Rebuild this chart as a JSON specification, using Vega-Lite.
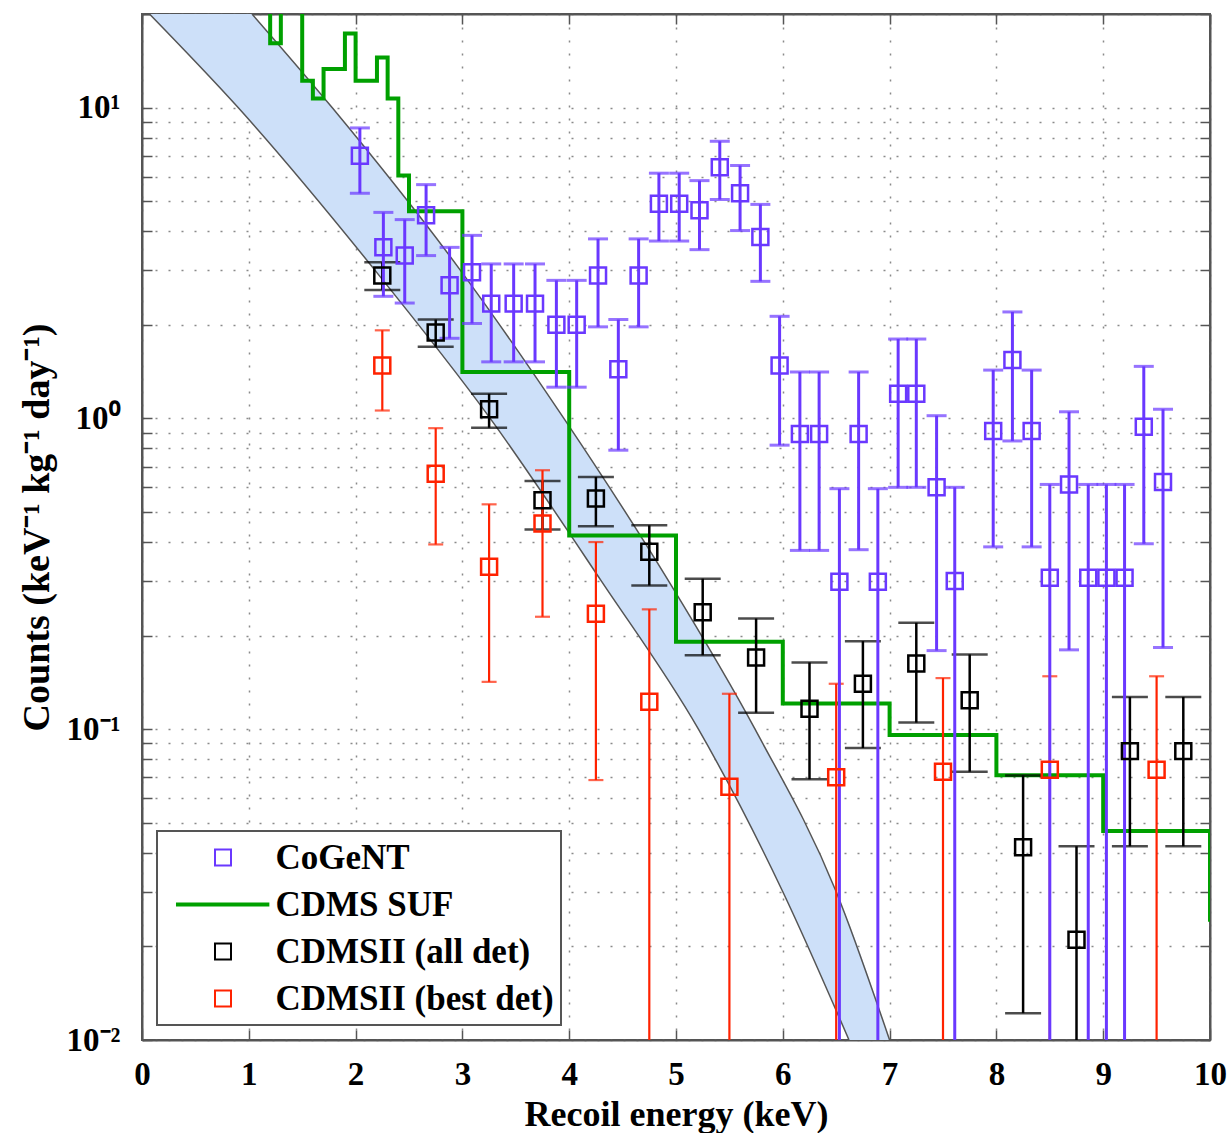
{
  "$schema": "https://vega.github.io/schema/vega-lite/v6.json",
  "width": 1068,
  "height": 1026,
  "autosize": {"type": "none"},
  "padding": {"left": 142, "top": 14, "right": 21, "bottom": 93},
  "background": "white",
  "config": {
    "view": {"stroke": "#555", "strokeWidth": 2},
    "font": "Liberation Serif",
    "legend": {"strokeWidth": 2}
  },
  "datasets": {
    "band": [
      {"level": 20, "left": 0.07, "right": 1.03},
      {"level": 10, "left": 0.90, "right": 1.78},
      {"level": 3, "left": 2.18, "right": 2.98},
      {"level": 1, "left": 3.26, "right": 3.95},
      {"level": 0.3, "left": 4.30, "right": 4.93},
      {"level": 0.1, "left": 5.21, "right": 5.74},
      {"level": 0.03, "left": 6.00, "right": 6.50},
      {"level": 0.01, "left": 6.62, "right": 7.00}
    ],
    "suf": [
      {"e": 1.0, "v": 40}, {"e": 1.2, "v": 16.1}, {"e": 1.3, "v": 40}, {"e": 1.5, "v": 12.2},
      {"e": 1.6, "v": 10.7}, {"e": 1.7, "v": 13.3}, {"e": 1.9, "v": 17.3}, {"e": 2.0, "v": 12.2},
      {"e": 2.2, "v": 14.5}, {"e": 2.3, "v": 10.7}, {"e": 2.4, "v": 6.04}, {"e": 2.5, "v": 4.64},
      {"e": 3.0, "v": 1.41}, {"e": 4.0, "v": 0.42}, {"e": 5.0, "v": 0.191}, {"e": 6.0, "v": 0.121},
      {"e": 7.0, "v": 0.0957}, {"e": 8.0, "v": 0.0711}, {"e": 9.0, "v": 0.047}, {"e": 10.0, "v": 0.024}
    ],
    "pts": [
      {"series": "CDMSII (all det)", "e": 2.25, "v": 2.88, "lo": 2.59, "hi": 3.18},
      {"series": "CDMSII (all det)", "e": 2.75, "v": 1.89, "lo": 1.70, "hi": 2.08},
      {"series": "CDMSII (all det)", "e": 3.25, "v": 1.07, "lo": 0.933, "hi": 1.20},
      {"series": "CDMSII (all det)", "e": 3.75, "v": 0.545, "lo": 0.439, "hi": 0.629},
      {"series": "CDMSII (all det)", "e": 4.25, "v": 0.552, "lo": 0.45, "hi": 0.648},
      {"series": "CDMSII (all det)", "e": 4.75, "v": 0.372, "lo": 0.29, "hi": 0.453},
      {"series": "CDMSII (all det)", "e": 5.25, "v": 0.238, "lo": 0.173, "hi": 0.305},
      {"series": "CDMSII (all det)", "e": 5.75, "v": 0.170, "lo": 0.113, "hi": 0.227},
      {"series": "CDMSII (all det)", "e": 6.25, "v": 0.1164, "lo": 0.069, "hi": 0.164},
      {"series": "CDMSII (all det)", "e": 6.75, "v": 0.14, "lo": 0.087, "hi": 0.192},
      {"series": "CDMSII (all det)", "e": 7.25, "v": 0.1626, "lo": 0.105, "hi": 0.22},
      {"series": "CDMSII (all det)", "e": 7.75, "v": 0.124, "lo": 0.073, "hi": 0.174},
      {"series": "CDMSII (all det)", "e": 8.25, "v": 0.0417, "lo": 0.0122, "hi": 0.071},
      {"series": "CDMSII (all det)", "e": 8.75, "v": 0.021, "lo": 0.001, "hi": 0.042},
      {"series": "CDMSII (all det)", "e": 9.25, "v": 0.085, "lo": 0.042, "hi": 0.127},
      {"series": "CDMSII (all det)", "e": 9.75, "v": 0.085, "lo": 0.042, "hi": 0.127},
      {"series": "CDMSII (best det)", "e": 2.25, "v": 1.48, "lo": 1.06, "hi": 1.92},
      {"series": "CDMSII (best det)", "e": 2.75, "v": 0.664, "lo": 0.393, "hi": 0.93},
      {"series": "CDMSII (best det)", "e": 3.25, "v": 0.333, "lo": 0.142, "hi": 0.529},
      {"series": "CDMSII (best det)", "e": 3.75, "v": 0.459, "lo": 0.23, "hi": 0.681},
      {"series": "CDMSII (best det)", "e": 4.25, "v": 0.235, "lo": 0.0686, "hi": 0.40},
      {"series": "CDMSII (best det)", "e": 4.75, "v": 0.1225, "lo": 0.001, "hi": 0.243},
      {"series": "CDMSII (best det)", "e": 5.5, "v": 0.0653, "lo": 0.001, "hi": 0.13},
      {"series": "CDMSII (best det)", "e": 6.5, "v": 0.070, "lo": 0.001, "hi": 0.14},
      {"series": "CDMSII (best det)", "e": 7.5, "v": 0.073, "lo": 0.001, "hi": 0.146},
      {"series": "CDMSII (best det)", "e": 8.5, "v": 0.074, "lo": 0.001, "hi": 0.148},
      {"series": "CDMSII (best det)", "e": 9.5, "v": 0.074, "lo": 0.001, "hi": 0.148},
      {"series": "CoGeNT", "e": 2.04, "v": 7.0, "lo": 5.3, "hi": 8.6},
      {"series": "CoGeNT", "e": 2.26, "v": 3.55, "lo": 2.47, "hi": 4.6},
      {"series": "CoGeNT", "e": 2.46, "v": 3.34, "lo": 2.35, "hi": 4.36},
      {"series": "CoGeNT", "e": 2.66, "v": 4.5, "lo": 3.34, "hi": 5.65},
      {"series": "CoGeNT", "e": 2.88, "v": 2.68, "lo": 1.81, "hi": 3.55},
      {"series": "CoGeNT", "e": 3.09, "v": 2.95, "lo": 2.02, "hi": 3.88},
      {"series": "CoGeNT", "e": 3.27, "v": 2.34, "lo": 1.52, "hi": 3.14},
      {"series": "CoGeNT", "e": 3.48, "v": 2.34, "lo": 1.52, "hi": 3.14},
      {"series": "CoGeNT", "e": 3.68, "v": 2.34, "lo": 1.52, "hi": 3.14},
      {"series": "CoGeNT", "e": 3.88, "v": 2.0, "lo": 1.26, "hi": 2.78},
      {"series": "CoGeNT", "e": 4.07, "v": 2.0, "lo": 1.26, "hi": 2.78},
      {"series": "CoGeNT", "e": 4.27, "v": 2.88, "lo": 1.97, "hi": 3.78},
      {"series": "CoGeNT", "e": 4.46, "v": 1.44, "lo": 0.79, "hi": 2.08},
      {"series": "CoGeNT", "e": 4.65, "v": 2.88, "lo": 1.97, "hi": 3.78},
      {"series": "CoGeNT", "e": 4.84, "v": 4.9, "lo": 3.72, "hi": 6.15},
      {"series": "CoGeNT", "e": 5.03, "v": 4.9, "lo": 3.72, "hi": 6.15},
      {"series": "CoGeNT", "e": 5.22, "v": 4.67, "lo": 3.49, "hi": 5.82},
      {"series": "CoGeNT", "e": 5.41, "v": 6.43, "lo": 5.06, "hi": 7.79},
      {"series": "CoGeNT", "e": 5.60, "v": 5.3, "lo": 4.02, "hi": 6.51},
      {"series": "CoGeNT", "e": 5.79, "v": 3.83, "lo": 2.76, "hi": 4.88},
      {"series": "CoGeNT", "e": 5.97, "v": 1.48, "lo": 0.82, "hi": 2.13},
      {"series": "CoGeNT", "e": 6.16, "v": 0.89, "lo": 0.376, "hi": 1.41},
      {"series": "CoGeNT", "e": 6.34, "v": 0.89, "lo": 0.376, "hi": 1.41},
      {"series": "CoGeNT", "e": 6.53, "v": 0.298, "lo": 0.001, "hi": 0.594},
      {"series": "CoGeNT", "e": 6.71, "v": 0.89, "lo": 0.378, "hi": 1.41},
      {"series": "CoGeNT", "e": 6.89, "v": 0.298, "lo": 0.001, "hi": 0.594},
      {"series": "CoGeNT", "e": 7.08, "v": 1.2, "lo": 0.60, "hi": 1.80},
      {"series": "CoGeNT", "e": 7.25, "v": 1.2, "lo": 0.60, "hi": 1.80},
      {"series": "CoGeNT", "e": 7.44, "v": 0.60, "lo": 0.179, "hi": 1.02},
      {"series": "CoGeNT", "e": 7.61, "v": 0.30, "lo": 0.001, "hi": 0.60},
      {"series": "CoGeNT", "e": 7.97, "v": 0.91, "lo": 0.386, "hi": 1.43},
      {"series": "CoGeNT", "e": 8.15, "v": 1.54, "lo": 0.846, "hi": 2.2},
      {"series": "CoGeNT", "e": 8.33, "v": 0.91, "lo": 0.386, "hi": 1.43},
      {"series": "CoGeNT", "e": 8.50, "v": 0.307, "lo": 0.001, "hi": 0.613},
      {"series": "CoGeNT", "e": 8.68, "v": 0.613, "lo": 0.18, "hi": 1.05},
      {"series": "CoGeNT", "e": 8.86, "v": 0.307, "lo": 0.001, "hi": 0.613},
      {"series": "CoGeNT", "e": 9.03, "v": 0.307, "lo": 0.001, "hi": 0.613},
      {"series": "CoGeNT", "e": 9.20, "v": 0.307, "lo": 0.001, "hi": 0.613},
      {"series": "CoGeNT", "e": 9.38, "v": 0.94, "lo": 0.395, "hi": 1.47},
      {"series": "CoGeNT", "e": 9.56, "v": 0.624, "lo": 0.183, "hi": 1.07}
    ]
  },
  "layer": [
    {
      "data": {"name": "band"},
      "mark": {"type": "area", "orient": "horizontal", "interpolate": "monotone", "color": "#cde0f9", "opacity": 1, "clip": true},
      "encoding": {
        "y": {
          "field": "level", "type": "quantitative",
          "scale": {"type": "log", "domain": [0.01, 20], "nice": false},
          "axis": {
            "orient": "left",
            "values": [0.01, 0.02, 0.03, 0.04, 0.05, 0.06, 0.07, 0.08, 0.09, 0.1, 0.2, 0.3, 0.4, 0.5, 0.6, 0.7, 0.8, 0.9, 1, 2, 3, 4, 5, 6, 7, 8, 9, 10, 20],
            "labelExpr": "datum.value == 10 ? '10¹' : datum.value == 1 ? '10⁰' : datum.value == 0.1 ? '10⁻¹' : datum.value == 0.01 ? '10⁻²' : ''",
            "title": "Counts (keV⁻¹ kg⁻¹ day⁻¹)",
            "grid": true, "gridDash": [2, 11], "gridColor": "#8a8a8a", "gridWidth": 1.5,
            "tickSize": -10, "tickColor": "#555", "tickWidth": 1.5,
            "domainColor": "#555", "domainWidth": 2,
            "labelFont": "Liberation Serif", "labelFontWeight": "bold", "labelFontSize": 33, "labelColor": "black",
            "labelPadding": 32, "labelOverlap": false, "labelFlush": false,
            "titleFont": "Liberation Serif", "titleFontWeight": "bold", "titleFontSize": 38, "titleColor": "black",
            "titlePadding": 10
          }
        },
        "x": {
          "field": "left", "type": "quantitative",
          "scale": {"domain": [0, 10], "nice": false},
          "axis": {
            "orient": "bottom",
            "values": [0, 1, 2, 3, 4, 5, 6, 7, 8, 9, 10],
            "format": "d",
            "title": "Recoil energy (keV)",
            "grid": true, "gridDash": [2, 11], "gridColor": "#8a8a8a", "gridWidth": 1.5,
            "tickSize": -10, "tickColor": "#555", "tickWidth": 1.5,
            "domainColor": "#555", "domainWidth": 2,
            "labelFont": "Liberation Serif", "labelFontWeight": "bold", "labelFontSize": 33, "labelColor": "black",
            "labelPadding": 28, "labelOverlap": false, "labelFlush": false,
            "titleFont": "Liberation Serif", "titleFontWeight": "bold", "titleFontSize": 36, "titleColor": "black",
            "titlePadding": 6
          }
        },
        "x2": {"field": "right"}
      }
    },
    {
      "data": {"name": "band"},
      "mark": {"type": "line", "color": "#555", "strokeWidth": 1.5, "interpolate": "monotone", "clip": true},
      "encoding": {
        "x": {"field": "left", "type": "quantitative",
          "axis": {"orient": "top", "values": [0, 1, 2, 3, 4, 5, 6, 7, 8, 9, 10], "labels": false, "title": null, "grid": false, "tickSize": -10, "tickColor": "#555", "tickWidth": 1.5, "domainColor": "#555", "domainWidth": 2}},
        "y": {"field": "level", "type": "quantitative",
          "axis": {"orient": "right", "values": [0.01, 0.02, 0.03, 0.04, 0.05, 0.06, 0.07, 0.08, 0.09, 0.1, 0.2, 0.3, 0.4, 0.5, 0.6, 0.7, 0.8, 0.9, 1, 2, 3, 4, 5, 6, 7, 8, 9, 10, 20], "labels": false, "title": null, "grid": false, "tickSize": -10, "tickColor": "#555", "tickWidth": 1.5, "domainColor": "#555", "domainWidth": 2}},
        "order": {"field": "level", "type": "quantitative"}
      }
    },
    {
      "data": {"name": "band"},
      "mark": {"type": "line", "color": "#555", "strokeWidth": 1.5, "interpolate": "monotone", "clip": true},
      "encoding": {
        "x": {"field": "right", "type": "quantitative", "axis": null},
        "y": {"field": "level", "type": "quantitative", "axis": null},
        "order": {"field": "level", "type": "quantitative"}
      }
    },
    {
      "data": {"name": "suf"},
      "mark": {"type": "line", "color": "#00a000", "strokeWidth": 4, "interpolate": "step-after", "clip": true},
      "encoding": {
        "x": {"field": "e", "type": "quantitative", "axis": null},
        "y": {"field": "v", "type": "quantitative", "axis": null}
      }
    },
    {
      "data": {"name": "pts"},
      "transform": [{"filter": "datum.series == 'CDMSII (all det)'"}],
      "layer": [
        {"mark": {"type": "rule", "color": "black", "strokeWidth": 2.5, "clip": true},
         "encoding": {"x": {"field": "e", "type": "quantitative", "axis": null}, "y": {"field": "lo", "type": "quantitative", "axis": null}, "y2": {"field": "hi"}}},
        {"mark": {"type": "tick", "orient": "horizontal", "color": "black", "size": 36, "thickness": 2.5, "clip": true},
         "encoding": {"x": {"field": "e", "type": "quantitative", "axis": null}, "y": {"field": "hi", "type": "quantitative", "axis": null}}},
        {"mark": {"type": "tick", "orient": "horizontal", "color": "black", "size": 36, "thickness": 2.5, "clip": true},
         "encoding": {"x": {"field": "e", "type": "quantitative", "axis": null}, "y": {"field": "lo", "type": "quantitative", "axis": null}}}
      ]
    },
    {
      "data": {"name": "pts"},
      "transform": [{"filter": "datum.series == 'CDMSII (best det)'"}],
      "layer": [
        {"mark": {"type": "rule", "color": "#ff2200", "strokeWidth": 2.2, "clip": true},
         "encoding": {"x": {"field": "e", "type": "quantitative", "axis": null}, "y": {"field": "lo", "type": "quantitative", "axis": null}, "y2": {"field": "hi"}}},
        {"mark": {"type": "tick", "orient": "horizontal", "color": "#ff2200", "size": 15, "thickness": 2.2, "clip": true},
         "encoding": {"x": {"field": "e", "type": "quantitative", "axis": null}, "y": {"field": "hi", "type": "quantitative", "axis": null}}},
        {"mark": {"type": "tick", "orient": "horizontal", "color": "#ff2200", "size": 15, "thickness": 2.2, "clip": true},
         "encoding": {"x": {"field": "e", "type": "quantitative", "axis": null}, "y": {"field": "lo", "type": "quantitative", "axis": null}}}
      ]
    },
    {
      "data": {"name": "pts"},
      "transform": [{"filter": "datum.series == 'CoGeNT'"}],
      "layer": [
        {"mark": {"type": "rule", "color": "#6a38ff", "strokeWidth": 3, "clip": true},
         "encoding": {"x": {"field": "e", "type": "quantitative", "axis": null}, "y": {"field": "lo", "type": "quantitative", "axis": null}, "y2": {"field": "hi"}}},
        {"mark": {"type": "tick", "orient": "horizontal", "color": "#6a38ff", "size": 20, "thickness": 3, "clip": true},
         "encoding": {"x": {"field": "e", "type": "quantitative", "axis": null}, "y": {"field": "hi", "type": "quantitative", "axis": null}}},
        {"mark": {"type": "tick", "orient": "horizontal", "color": "#6a38ff", "size": 20, "thickness": 3, "clip": true},
         "encoding": {"x": {"field": "e", "type": "quantitative", "axis": null}, "y": {"field": "lo", "type": "quantitative", "axis": null}}}
      ]
    },
    {
      "data": {"name": "pts"},
      "mark": {"type": "point", "filled": false, "strokeWidth": 2.5, "size": 11664, "opacity": 1, "clip": true},
      "encoding": {
        "x": {"field": "e", "type": "quantitative", "axis": null},
        "y": {"field": "v", "type": "quantitative", "axis": null},
        "color": {
          "field": "series", "type": "nominal",
          "scale": {"domain": ["CoGeNT", "CDMS SUF", "CDMSII (all det)", "CDMSII (best det)"], "range": ["#6a38ff", "#00a000", "#000000", "#ff2200"]},
          "legend": {
            "title": null, "orient": "bottom-left", "offset": 15, "padding": 6.5,
            "strokeColor": "#555", "fillColor": "white",
            "labelFont": "Liberation Serif", "labelFontWeight": "bold", "labelFontSize": 35, "labelColor": "black", "labelLimit": 400,
            "clipHeight": 40, "rowPadding": 7, "symbolSize": 11664, "symbolStrokeWidth": 2,
            "symbolOffset": 4.5, "labelOffset": -2.5
          }
        },
        "shape": {
          "field": "series", "type": "nominal",
          "scale": {"domain": ["CoGeNT", "CDMS SUF", "CDMSII (all det)", "CDMSII (best det)"],
            "range": ["M-0.148,-0.148H0.148V0.148H-0.148Z", "M-0.852,-0.0185H0.84V0.0185H-0.852Z", "M-0.148,-0.148H0.148V0.148H-0.148Z", "M-0.148,-0.148H0.148V0.148H-0.148Z"]}
        }
      }
    }
  ],
  "resolve": {"axis": {"x": "independent", "y": "independent"}}
}
